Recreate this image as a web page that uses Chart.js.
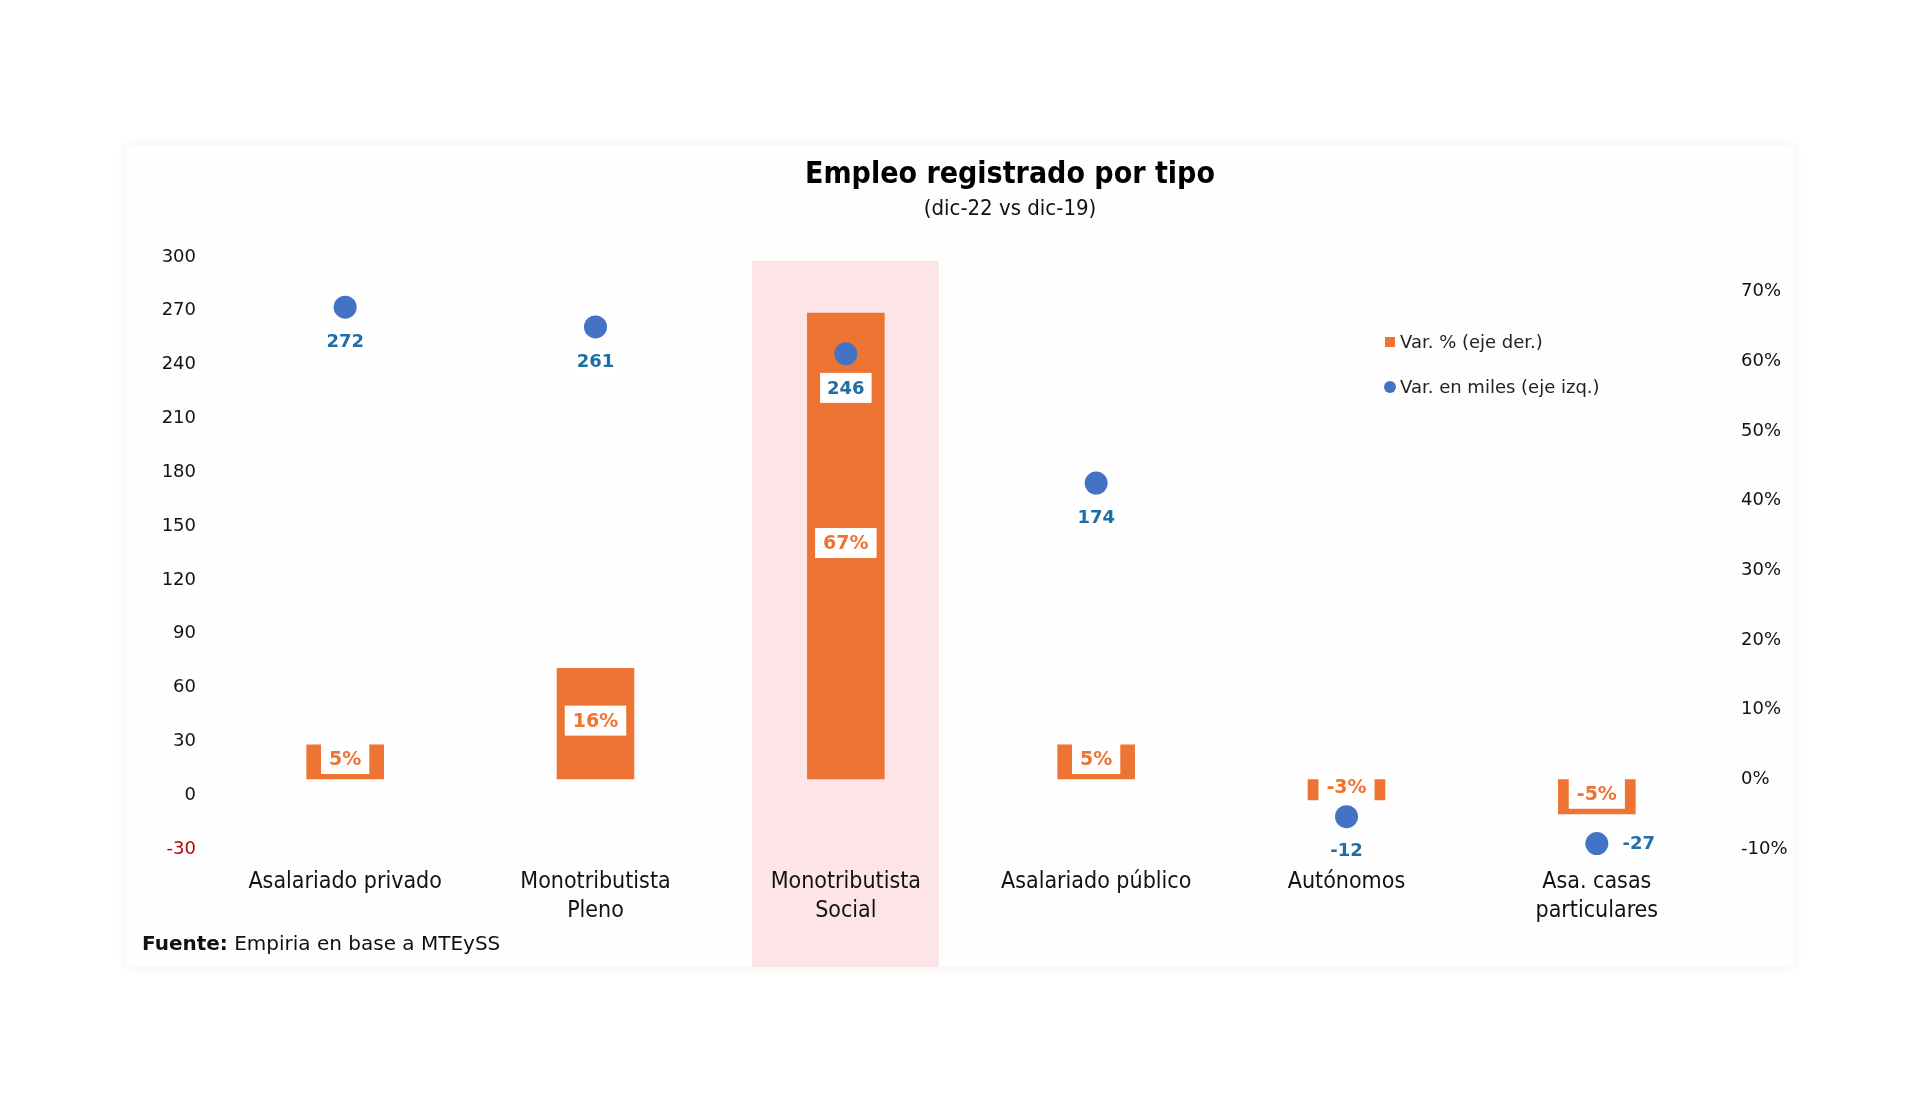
<!DOCTYPE html>
<html lang="es">
<head>
<meta charset="utf-8">
<title>Empleo registrado por tipo</title>
<script src="https://cdn.jsdelivr.net/npm/chart.js@4.4.1/dist/chart.umd.min.js"></script>
<style>
    html, body { margin: 0; padding: 0; background: #fff; }
    #wrap { position: relative; width: 1920px; height: 1114px; }
</style>
</head>
<body>
<div id="wrap"><canvas id="empleoChart"></canvas></div>
<script>
// Data
const categories = [
    'Asalariado privado',
    ['Monotributista', 'Pleno'],
    ['Monotributista', 'Social'],
    'Asalariado público',
    'Autónomos',
    ['Asa. casas', 'particulares']
];
const varPct = [5, 16, 67, 5, -3, -5];            // eje derecho, %
const varMiles = [272, 261, 246, 174, -12, -27];  // eje izquierdo, miles
const leftTicks = [-30, 0, 30, 60, 90, 120, 150, 180, 210, 240, 270, 300];
const rightTicks = [-10, 0, 10, 20, 30, 40, 50, 60, 70];
const highlightIndex = 2;
const pointLabelSide = ['below', 'below', 'below', 'below', 'below', 'right'];

const ORANGE = '#EE7433';
const BLUE = '#4472C4';
const LABEL_BLUE = '#1F6FA6';
const PINK = '#FDE4E6';
const NARROW = "'DejaVu Sans Condensed', 'Liberation Sans Narrow', 'Roboto Condensed', 'DejaVu Sans', sans-serif";
const BASE = "'DejaVu Sans', Verdana, sans-serif";

Chart.defaults.font.family = BASE;

const decorPlugin = {
    id: 'decor',
    beforeDraw(chart) {
        const ctx = chart.ctx;
        ctx.save();
        ctx.fillStyle = '#fff';
        ctx.fillRect(0, 0, chart.width, chart.height);
        // faint panel behind the chart
        ctx.shadowColor = 'rgba(0,0,0,0.07)';
        ctx.shadowBlur = 10;
        ctx.fillStyle = '#fefefe';
        ctx.fillRect(126, 145, 1668, 822);
        ctx.shadowColor = 'transparent';
        // highlight band for Monotributista Social
        const cx = chart.scales.x.getPixelForValue(highlightIndex);
        ctx.fillStyle = PINK;
        ctx.fillRect(cx - 94, 261, 187, 706);
        ctx.restore();
    },
    afterDatasetsDraw(chart) {
        const ctx = chart.ctx;
        ctx.save();
        ctx.textAlign = 'center';
        ctx.textBaseline = 'middle';
        ctx.font = 'bold 19px ' + BASE;

        // bar labels: white box, orange text
        chart.getDatasetMeta(0).data.forEach((bar, i) => {
            const txt = Math.round(varPct[i]) + '%';
            const w = ctx.measureText(txt).width + 16;
            const cy = (bar.y + bar.base) / 2 - 3;
            ctx.fillStyle = '#fff';
            ctx.fillRect(bar.x - w / 2, cy - 15, w, 30);
            ctx.fillStyle = ORANGE;
            ctx.fillText(txt, bar.x, cy + 1);
        });

        // point labels
        ctx.font = 'bold 18px ' + BASE;
        chart.getDatasetMeta(1).data.forEach((pt, i) => {
            const txt = String(varMiles[i]);
            const w = ctx.measureText(txt).width + 14;
            let lx = pt.x, ly = pt.y + 34;
            if (pointLabelSide[i] === 'right') {
                lx = pt.x + 42;
                ly = pt.y;
            }
            ctx.fillStyle = '#fff';
            ctx.fillRect(lx - w / 2, ly - 15, w, 30);
            ctx.fillStyle = LABEL_BLUE;
            ctx.fillText(txt, lx, ly + 1);
        });
        ctx.restore();
    },
    afterDraw(chart) {
        const ctx = chart.ctx;
        ctx.save();
        ctx.textAlign = 'center';
        ctx.textBaseline = 'middle';
        ctx.fillStyle = '#000';
        ctx.font = 'bold 30px ' + NARROW;
        ctx.fillText('Empleo registrado por tipo', 1010, 175);
        ctx.fillStyle = '#111';
        ctx.font = '22px ' + NARROW;
        ctx.fillText('(dic-22 vs dic-19)', 1010, 209);

        // legend
        ctx.textAlign = 'left';
        ctx.font = '18px ' + BASE;
        ctx.fillStyle = ORANGE;
        ctx.fillRect(1385, 337, 10, 10);
        ctx.fillStyle = '#222';
        ctx.fillText('Var. % (eje der.)', 1400, 343);
        ctx.fillStyle = BLUE;
        ctx.beginPath();
        ctx.arc(1390, 387, 6, 0, Math.PI * 2);
        ctx.fill();
        ctx.fillStyle = '#222';
        ctx.fillText('Var. en miles (eje izq.)', 1400, 388);

        // source
        ctx.fillStyle = '#111';
        ctx.font = 'bold 20px ' + BASE;
        ctx.fillText('Fuente:', 142, 945);
        const fw = ctx.measureText('Fuente:').width;
        ctx.font = '20px ' + BASE;
        ctx.fillText(' Empiria en base a MTEySS', 142 + fw, 945);
        ctx.restore();
    }
};

const ctx = document.getElementById('empleoChart').getContext('2d');

new Chart(ctx, {
    type: 'bar',
    data: {
        labels: categories,
        datasets: [
            {
                label: 'Var. % (eje der.)',
                data: varPct,
                yAxisID: 'y2',
                backgroundColor: ORANGE,
                borderWidth: 0,
                categoryPercentage: 1,
                barPercentage: 0.31,
                order: 2
            },
            {
                type: 'line',
                label: 'Var. en miles (eje izq.)',
                data: varMiles,
                yAxisID: 'y',
                showLine: false,
                clip: false,
                pointRadius: 11.5,
                pointHoverRadius: 11.5,
                pointBackgroundColor: BLUE,
                pointBorderWidth: 0,
                order: 1
            }
        ]
    },
    options: {
        responsive: true,
        maintainAspectRatio: false,
        animation: false,
        devicePixelRatio: 1,
        layout: { padding: { top: 257, left: 0, right: 0, bottom: 0 } },
        plugins: {
            legend: { display: false },
            tooltip: { enabled: false }
        },
        scales: {
            x: {
                grid: { display: false, drawTicks: false },
                border: { display: false },
                ticks: {
                    color: '#111',
                    padding: 18,
                    autoSkip: false,
                    maxRotation: 0,
                    font: { family: NARROW, size: 23, lineHeight: 1.27 }
                },
                afterFit(scale) { scale.height = 1114 - 849; }
            },
            y: {
                position: 'left',
                min: -30,
                max: 300,
                grid: { display: false, drawTicks: false },
                border: { display: false },
                afterBuildTicks(scale) { scale.ticks = leftTicks.map(v => ({ value: v })); },
                ticks: {
                    padding: 24,
                    font: { size: 18 },
                    color: (c) => c.tick && c.tick.value < 0 ? '#C00000' : '#111'
                },
                afterFit(scale) { scale.width = 220; }
            },
            y2: {
                position: 'right',
                min: -10,
                max: 75,
                grid: { display: false, drawTicks: false },
                border: { display: false },
                afterBuildTicks(scale) { scale.ticks = rightTicks.map(v => ({ value: v })); },
                ticks: {
                    padding: 19,
                    font: { size: 18 },
                    color: '#111',
                    callback: (v) => v + '%'
                },
                afterFit(scale) { scale.width = 1920 - 1722; }
            }
        }
    },
    plugins: [decorPlugin]
});
</script>
</body>
</html>
